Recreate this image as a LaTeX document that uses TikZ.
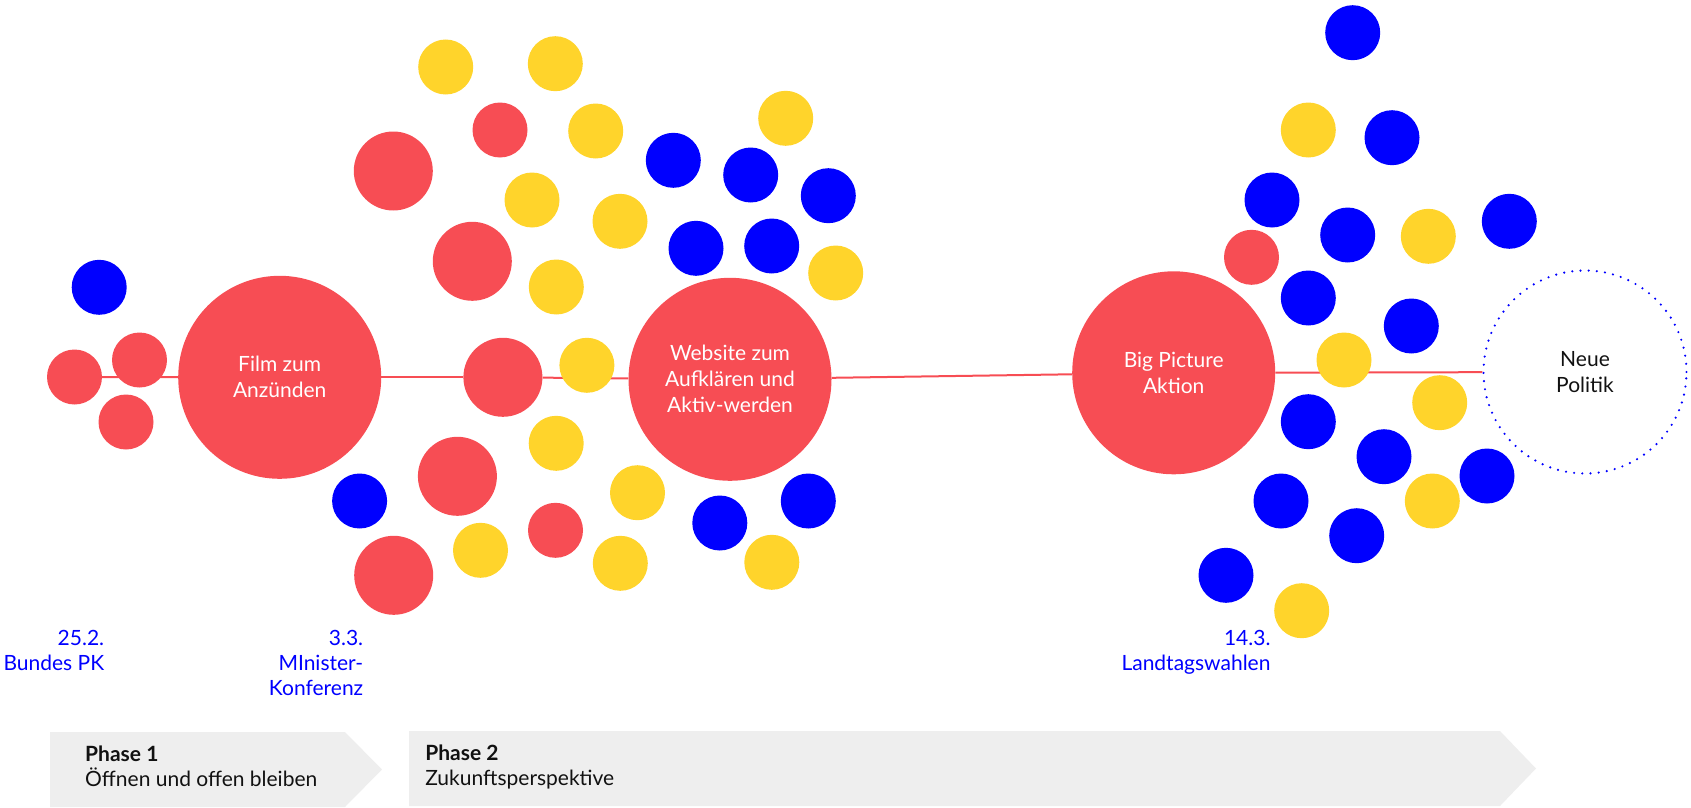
\documentclass[tikz,border=0pt]{standalone}
\usepackage{fontspec}
\setmainfont{Lato}
\usetikzlibrary{positioning,backgrounds}

\definecolor{tomato}{HTML}{F74D54}
\definecolor{sun}{HTML}{FFD42B}
\definecolor{pureblue}{HTML}{0000FF}
\definecolor{phasegray}{HTML}{EEEEEE}
\definecolor{ink}{HTML}{111111}

\begin{document}
\begin{tikzpicture}
    [x=1pt, y=-1pt,
     dot/.style={circle, inner sep=0pt, minimum size=55pt},
     rdot/.style={dot, fill=tomato},
     ydot/.style={dot, fill=sun},
     bdot/.style={dot, fill=pureblue},
     mdot/.style={dot, fill=tomato, minimum size=79pt},
     big/.style={circle, inner sep=0pt, minimum size=203pt, align=center, font=\fontsize{21}{26}\selectfont},
     date/.style={align=right, anchor=base east, text=pureblue, font=\fontsize{21}{25}\selectfont},
     phase/.style={anchor=base west, text=ink, font=\fontsize{21}{25}\selectfont},
     link/.style={draw=tomato, line width=2pt}]
  \useasboundingbox (0,0) rectangle (1691,808);

  % milestones on the time line
  \node[big, fill=tomato, text=white] (n1) at (279.7,377.3) {Film zum\\Anzünden};
  \node[big, fill=tomato, text=white] (n2) at (730,379.3) {Website zum\\Aufklären und\\Aktiv-werden};
  \node[big, fill=tomato, text=white] (n3) at (1173.7,372.8) {Big Picture\\Aktion};
  \node[big, draw=pureblue, line width=2.4pt, line cap=round, dash pattern=on 0pt off 8.2pt, text=ink] (n4) at (1585,372) {Neue\\Politik};

  % small and medium dots
  \foreach \x/\y [count=\i] in {74.5/377, 139.5/360, 126/422, 500/130, 555.5/530.3, 1251.5/257.3}
    \node[rdot] (r\i) at (\x,\y) {};
  \foreach \x/\y [count=\i] in {393.3/171, 472.3/261.3, 502.9/377.3, 457.4/476.3, 393.7/575.3}
    \node[mdot] (m\i) at (\x,\y) {};
  \foreach \x/\y [count=\i] in {445.7/67, 555.3/63.7, 595.7/131, 785.7/118.3, 532/200, 620/221.3,
      835.7/273, 556.3/287, 586.9/365.3, 556.2/443.3, 637.5/492.7, 480.5/550.3, 620.3/563.3,
      771.8/562.3, 1308.3/130, 1428.3/236.3, 1344/360, 1439.7/402.7, 1432.3/501, 1301.7/610.7}
    \node[ydot] (y\i) at (\x,\y) {};
  \foreach \x/\y [count=\i] in {99.2/287.3, 673.3/160.3, 750.7/175, 828.3/195.7, 696/248.3,
      771.7/246, 359.6/501, 719.8/523, 808.3/501, 1352.7/32.7, 1392/137.7, 1272/200,
      1347.7/235, 1509.3/221.3, 1308.3/298, 1411.3/326, 1308.3/421.7, 1384/456.7,
      1487/476, 1281/501, 1356.7/535.7, 1226/575.3}
    \node[bdot] (b\i) at (\x,\y) {};

  % dates (base = last line)
  \node[date] (d1) at (107.7,670.7) {25.2.\\Bundes PK};
  \node[date] (d2) at (366.7,695.7) {3.3.\\MInister-\\Konferenz};
  \node[date] (d3) at (1274,670.3) {14.3.\\Landtagswahlen};

  % phases
  \fill[phasegray] (50,732) -- (345,732) -- (382,769.5) -- (345,807) -- (50,807) -- cycle;
  \fill[phasegray] (409,731) -- (1500,731) -- (1536,768.5) -- (1500,806) -- (409,806) -- cycle;
  \node[phase, font=\fontsize{21}{25}\bfseries] (p1) at (81.7,761.7) {Phase 1};
  \node[phase] (p1t) at (81.7,786.7) {Öffnen und offen bleiben};
  \node[phase, font=\fontsize{21}{25}\bfseries] (p2) at (421.8,760.7) {Phase 2};
  \node[phase] (p2t) at (421.8,785.7) {Zukunftsperspektive};

  \begin{pgfonlayer}{background}
    \foreach \from/\to in {r1/n1, n1/m3, m3/n2, n2/n3, n3/n4}
      \draw[link] (\from) -- (\to);
  \end{pgfonlayer}
\end{tikzpicture}
\end{document}
